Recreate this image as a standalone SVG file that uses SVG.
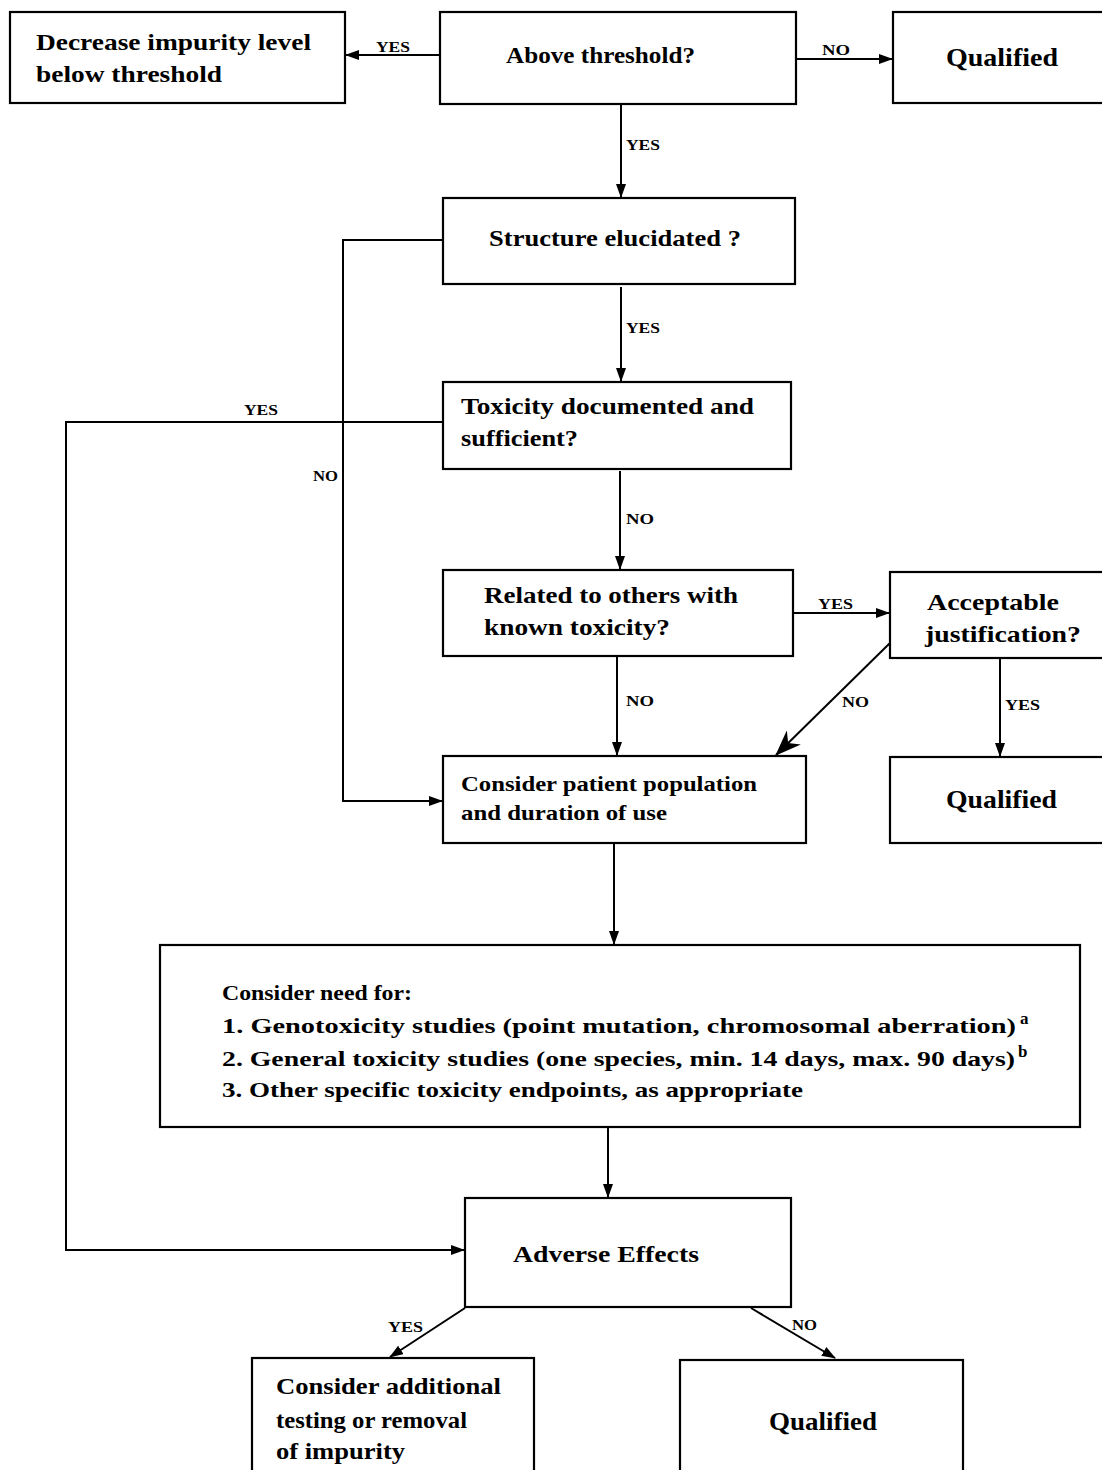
<svg xmlns="http://www.w3.org/2000/svg" width="1102" height="1470" viewBox="0 0 1102 1470">
<defs>
<marker id="ah" markerUnits="userSpaceOnUse" markerWidth="14" markerHeight="10" refX="13" refY="5" orient="auto"><path d="M0,0 L14,5 L0,10 z" fill="#000"/></marker>
<marker id="ahBig" markerUnits="userSpaceOnUse" markerWidth="26" markerHeight="20" refX="25" refY="10" orient="auto"><path d="M0,0 L26,10 L0,20 L8,10 z" fill="#000"/></marker>
<style>
.box{fill:#fff;stroke:#000;stroke-width:2.2}
.t{font-family:"Liberation Serif","Times New Roman",serif;font-weight:bold;fill:#000}
.n{font-size:24px}
.lb{font-family:"Liberation Serif","Times New Roman",serif;font-weight:bold;font-size:15px;fill:#000}
.c{fill:none;stroke:#000;stroke-width:2}
</style>
</defs>
<rect width="1102" height="1470" fill="#fff"/>
<g id="connectors">
<line class="c" x1="440" y1="55" x2="346" y2="55" marker-end="url(#ah)"/>
<text class="lb" x="376" y="52" textLength="34" lengthAdjust="spacingAndGlyphs">YES</text>
<line class="c" x1="796" y1="59" x2="892" y2="59" marker-end="url(#ah)"/>
<text class="lb" x="822" y="55" textLength="28" lengthAdjust="spacingAndGlyphs">NO</text>
<line class="c" x1="621" y1="104" x2="621" y2="197" marker-end="url(#ah)"/>
<text class="lb" x="626" y="150" textLength="34" lengthAdjust="spacingAndGlyphs">YES</text>
<line class="c" x1="621" y1="287" x2="621" y2="381" marker-end="url(#ah)"/>
<text class="lb" x="626" y="333" textLength="34" lengthAdjust="spacingAndGlyphs">YES</text>
<polyline class="c" points="443,240 343,240 343,801 442,801" marker-end="url(#ah)"/>
<text class="lb" x="313" y="481" textLength="25" lengthAdjust="spacingAndGlyphs">NO</text>
<polyline class="c" points="443,422 66,422 66,1250 464,1250" marker-end="url(#ah)"/>
<text class="lb" x="244" y="415" textLength="34" lengthAdjust="spacingAndGlyphs">YES</text>
<line class="c" x1="620" y1="471" x2="620" y2="569" marker-end="url(#ah)"/>
<text class="lb" x="626" y="524" textLength="28" lengthAdjust="spacingAndGlyphs">NO</text>
<line class="c" x1="793" y1="613" x2="889" y2="613" marker-end="url(#ah)"/>
<text class="lb" x="818" y="609" textLength="35" lengthAdjust="spacingAndGlyphs">YES</text>
<line class="c" x1="617" y1="657" x2="617" y2="755" marker-end="url(#ah)"/>
<text class="lb" x="626" y="706" textLength="28" lengthAdjust="spacingAndGlyphs">NO</text>
<line class="c" x1="890" y1="643" x2="776" y2="755" marker-end="url(#ahBig)"/>
<text class="lb" x="842" y="707" textLength="27" lengthAdjust="spacingAndGlyphs">NO</text>
<line class="c" x1="1000" y1="659" x2="1000" y2="756" marker-end="url(#ah)"/>
<text class="lb" x="1005" y="710" textLength="35" lengthAdjust="spacingAndGlyphs">YES</text>
<line class="c" x1="614" y1="844" x2="614" y2="944" marker-end="url(#ah)"/>
<line class="c" x1="608" y1="1128" x2="608" y2="1197" marker-end="url(#ah)"/>
<line class="c" x1="465" y1="1308" x2="390" y2="1357" marker-end="url(#ah)"/>
<text class="lb" x="388" y="1332" textLength="35" lengthAdjust="spacingAndGlyphs">YES</text>
<line class="c" x1="751" y1="1308" x2="835" y2="1358" marker-end="url(#ah)"/>
<text class="lb" x="792" y="1330" textLength="25" lengthAdjust="spacingAndGlyphs">NO</text>
</g>
<g id="decrease">
<rect class="box" x="10" y="12" width="335" height="91"/>
<text class="t n" x="36" y="50" textLength="275" lengthAdjust="spacingAndGlyphs">Decrease impurity level</text>
<text class="t n" x="36" y="82" textLength="186" lengthAdjust="spacingAndGlyphs">below threshold</text>
</g>
<g id="above">
<rect class="box" x="440" y="12" width="356" height="92"/>
<text class="t" font-size="23" x="506" y="63" textLength="189" lengthAdjust="spacingAndGlyphs">Above threshold?</text>
</g>
<g id="qualified1">
<rect class="box" x="893" y="12" width="215" height="91"/>
<text class="t" font-size="26" x="946" y="66" textLength="112" lengthAdjust="spacingAndGlyphs">Qualified</text>
</g>
<g id="structure">
<rect class="box" x="443" y="198" width="352" height="86"/>
<text class="t" font-size="23" x="489" y="246" textLength="252" lengthAdjust="spacingAndGlyphs">Structure elucidated ?</text>
</g>
<g id="toxicity">
<rect class="box" x="443" y="382" width="348" height="87"/>
<text class="t n" x="461" y="414" textLength="293" lengthAdjust="spacingAndGlyphs">Toxicity documented and</text>
<text class="t n" x="461" y="446" textLength="117" lengthAdjust="spacingAndGlyphs">sufficient?</text>
</g>
<g id="related">
<rect class="box" x="443" y="570" width="350" height="86"/>
<text class="t n" x="484" y="603" textLength="254" lengthAdjust="spacingAndGlyphs">Related to others with</text>
<text class="t n" x="484" y="635" textLength="186" lengthAdjust="spacingAndGlyphs">known toxicity?</text>
</g>
<g id="acceptable">
<rect class="box" x="890" y="572" width="216" height="86"/>
<text class="t n" x="927" y="610" textLength="132" lengthAdjust="spacingAndGlyphs">Acceptable</text>
<text class="t n" x="925" y="642" textLength="156" lengthAdjust="spacingAndGlyphs">justification?</text>
</g>
<g id="patient">
<rect class="box" x="443" y="756" width="363" height="87"/>
<text class="t" font-size="22" x="461" y="791" textLength="296" lengthAdjust="spacingAndGlyphs">Consider patient population</text>
<text class="t" font-size="22" x="461" y="820" textLength="206" lengthAdjust="spacingAndGlyphs">and duration of use</text>
</g>
<g id="qualified2">
<rect class="box" x="890" y="757" width="216" height="86"/>
<text class="t" font-size="26" x="946" y="808" textLength="111" lengthAdjust="spacingAndGlyphs">Qualified</text>
</g>
<g id="need">
<rect class="box" x="160" y="945" width="920" height="182"/>
<text class="t" font-size="22" x="222" y="1000" textLength="190" lengthAdjust="spacingAndGlyphs">Consider need for:</text>
<text class="t" font-size="22" x="222" y="1033" textLength="794" lengthAdjust="spacingAndGlyphs">1. Genotoxicity studies (point mutation, chromosomal aberration)</text>
<text class="t" font-size="17" x="1020" y="1024">a</text>
<text class="t" font-size="22" x="222" y="1066" textLength="793" lengthAdjust="spacingAndGlyphs">2. General toxicity studies (one species, min. 14 days, max. 90 days)</text>
<text class="t" font-size="17" x="1018" y="1057">b</text>
<text class="t" font-size="22" x="222" y="1097" textLength="581" lengthAdjust="spacingAndGlyphs">3. Other specific toxicity endpoints, as appropriate</text>
</g>
<g id="adverse">
<rect class="box" x="465" y="1198" width="326" height="109"/>
<text class="t" font-size="24" x="513" y="1262" textLength="186" lengthAdjust="spacingAndGlyphs">Adverse Effects</text>
</g>
<g id="additional">
<rect class="box" x="252" y="1358" width="282" height="120"/>
<text class="t" font-size="24" x="276" y="1394" textLength="225" lengthAdjust="spacingAndGlyphs">Consider additional</text>
<text class="t" font-size="24" x="276" y="1428" textLength="191" lengthAdjust="spacingAndGlyphs">testing or removal</text>
<text class="t" font-size="24" x="276" y="1459" textLength="129" lengthAdjust="spacingAndGlyphs">of impurity</text>
</g>
<g id="qualified3">
<rect class="box" x="680" y="1360" width="283" height="120"/>
<text class="t" font-size="26" x="769" y="1430" textLength="108" lengthAdjust="spacingAndGlyphs">Qualified</text>
</g>
</svg>
